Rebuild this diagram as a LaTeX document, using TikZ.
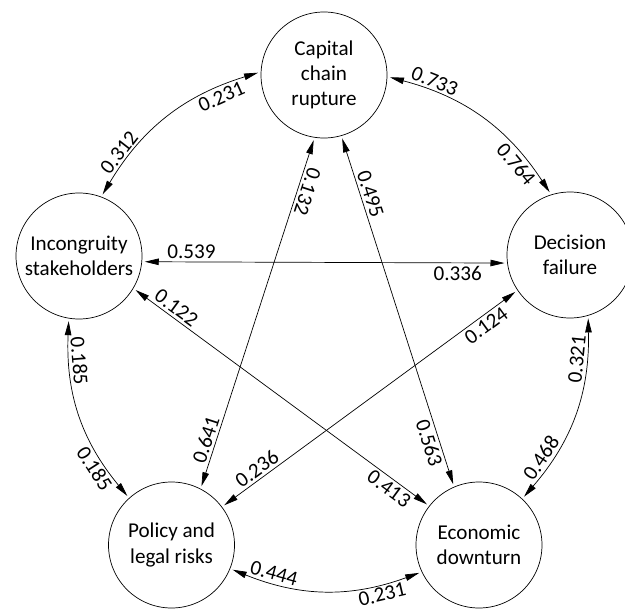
\documentclass[tikz,border=0pt]{standalone}
\usepackage{fontspec}
\setmainfont{Carlito}
\usetikzlibrary{arrows.meta}
\begin{document}
\begin{tikzpicture}[risk/.style={circle,draw,line width=0.4pt,minimum size=2.52cm,inner sep=0pt,outer sep=0.06cm,align=center,font=\fontsize{12}{14.4}\selectfont},
link/.style={{Triangle[length=2.8mm,width=1.3mm]}-{Triangle[length=2.8mm,width=1.3mm]},line width=0.4pt},
w/.style={font=\fontsize{12}{14.4}\selectfont,inner sep=1.5pt,sloped}
]
\useasboundingbox (0,0) rectangle (12.5,12.2);
\node[risk] (cap) at (6.48,10.70) {Capital\\chain\\rupture};
\node[risk] (dec) at (11.40,7.10) {Decision\\failure};
\node[risk] (eco) at (9.58,1.30) {Economic\\downturn};
\node[risk] (pol) at (3.43,1.30) {Policy and\\legal risks};
\node[risk] (inc) at (1.58,7.08) {Incongruity\\stakeholders};
% outer ring
\draw[link] (inc.69) to[bend left=21] node[w,pos=.2,above]{0.312} node[w,pos=.8,below]{0.231} (cap.178);
\draw[link] (cap.-2) to[bend left=21] node[w,pos=.2,above]{0.733} node[w,pos=.8,below]{0.764} (dec.108);
\draw[link] (dec.-74) to[bend left=21] node[w,pos=.2,above]{0.321} node[w,pos=.8,above]{0.468} (eco.47);
\draw[link] (eco.-155) to[bend left=21] node[w,pos=.2,below]{0.231} node[w,pos=.8,above]{0.444} (pol.-22);
\draw[link] (pol.132) to[bend left=21] node[w,pos=.2,below]{0.185} node[w,pos=.8,above]{0.185} (inc.-99);
% inner star
\draw[link] (inc.-5) -- node[w,pos=.13,above]{0.539} node[w,pos=.87,below]{0.336} (dec.-173);
\draw[link] (cap.-99) -- node[w,pos=.14,above,rotate=180]{0.132} node[w,pos=.875,above]{0.641} (pol.63);
\draw[link] (cap.-74) -- node[w,pos=.17,above]{0.495} node[w,pos=.872,below]{0.563} (eco.113);
\draw[link] (inc.-31) -- node[w,pos=.12,above]{0.122} node[w,pos=.89,below]{0.413} (eco.142);
\draw[link] (dec.-146) -- node[w,pos=.12,below]{0.124} node[w,pos=.867,above]{0.236} (pol.37);
\end{tikzpicture}
\end{document}
